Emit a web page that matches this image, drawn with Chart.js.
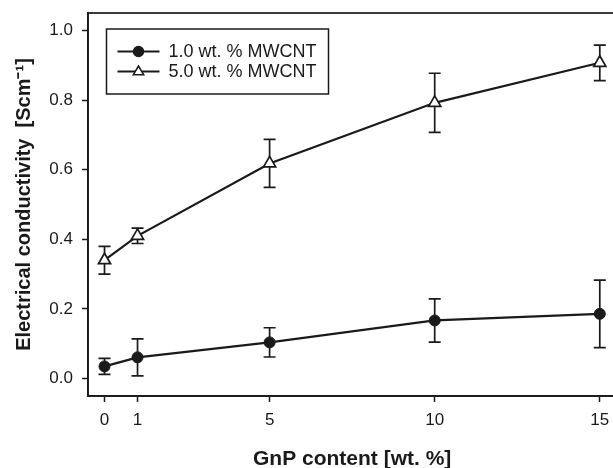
<!DOCTYPE html>
<html>
<head>
<meta charset="utf-8">
<script src="https://cdn.jsdelivr.net/npm/chart.js@4"></script>
<style>
    html, body { margin: 0; padding: 0; background: #fff; overflow: hidden; }
    #wrap { position: relative; width: 625px; height: 468px; }
</style>
</head>
<body>
<div id="wrap"><canvas id="chart"></canvas></div>
<script>
// GnP content [wt. %]
const gnpContent = [0, 1, 5, 10, 15];
const xTickValues = [0, 1, 5, 10, 15];
const yTickValues = [0, 0.2, 0.4, 0.6, 0.8, 1.0];

// 1.0 wt. % MWCNT
const lowCntValues = [0.035, 0.061, 0.104, 0.167, 0.186];
const lowCntErrors = [0.023, 0.053, 0.042, 0.062, 0.097];

// 5.0 wt. % MWCNT
const highCntValues = [0.340, 0.410, 0.618, 0.792, 0.907];
const highCntErrors = [0.040, 0.022, 0.069, 0.085, 0.051];

const seriesLabels = ['1.0 wt. % MWCNT', '5.0 wt. % MWCNT'];

const INK = '#1a1a1a';
const FONT = '"Liberation Sans", Arial, sans-serif';

function toPoints(xs, ys, errs) {
    return xs.map((x, i) => ({ x: x, y: ys[i], err: errs[i] }));
}

// error bars drawn through the chart scales
const errorBars = {
    id: 'errorBars',
    beforeDatasetsDraw(chart) {
        const ctx = chart.ctx;
        const xScale = chart.scales.x;
        const yScale = chart.scales.y;
        ctx.save();
        ctx.strokeStyle = INK;
        ctx.lineWidth = 1.7;
        chart.data.datasets.forEach(ds => {
            ds.data.forEach(p => {
                const px = xScale.getPixelForValue(p.x);
                const top = yScale.getPixelForValue(p.y + p.err);
                const bottom = yScale.getPixelForValue(p.y - p.err);
                ctx.beginPath();
                ctx.moveTo(px, top);
                ctx.lineTo(px, bottom);
                ctx.moveTo(px - 6, top);
                ctx.lineTo(px + 6, top);
                ctx.moveTo(px - 6, bottom);
                ctx.lineTo(px + 6, bottom);
                ctx.stroke();
            });
        });
        ctx.restore();
    }
};

// frame around the plot area and the boxed legend
const frameAndLegend = {
    id: 'frameAndLegend',
    afterDraw(chart) {
        const ctx = chart.ctx;
        const area = chart.chartArea;
        ctx.save();
        ctx.strokeStyle = INK;
        ctx.lineWidth = 1.7;
        ctx.strokeRect(area.left, area.top, area.right - area.left, area.bottom - area.top);

        const boxX = area.left + 18.5;
        const boxY = area.top + 16;
        const boxW = 222;
        const boxH = 65;
        ctx.fillStyle = '#fff';
        ctx.fillRect(boxX, boxY, boxW, boxH);
        ctx.lineWidth = 1.5;
        ctx.strokeRect(boxX, boxY, boxW, boxH);

        ctx.font = '18px ' + FONT;
        ctx.textBaseline = 'middle';
        chart.data.datasets.forEach((ds, i) => {
            const rowY = boxY + 22.5 + i * 20;
            const x0 = boxX + 11;
            const x1 = boxX + 53;
            const mx = (x0 + x1) / 2;
            ctx.strokeStyle = INK;
            ctx.lineWidth = 2;
            ctx.beginPath();
            ctx.moveTo(x0, rowY);
            ctx.lineTo(x1, rowY);
            ctx.stroke();
            ctx.fillStyle = ds.pointBackgroundColor;
            ctx.lineWidth = 1.5;
            ctx.beginPath();
            if (ds.pointStyle === 'triangle') {
                const r = 5.5;
                ctx.moveTo(mx, rowY - r);
                ctx.lineTo(mx + r * 0.95, rowY + r * 0.6);
                ctx.lineTo(mx - r * 0.95, rowY + r * 0.6);
                ctx.closePath();
            } else {
                ctx.arc(mx, rowY, 5, 0, Math.PI * 2);
            }
            ctx.fill();
            ctx.stroke();
            ctx.fillStyle = INK;
            ctx.fillText(ds.label, boxX + 62, rowY + 1);
        });
        ctx.restore();
    }
};

new Chart(document.getElementById('chart'), {
    type: 'line',
    data: {
        datasets: [
            {
                label: seriesLabels[0],
                data: toPoints(gnpContent, lowCntValues, lowCntErrors),
                borderColor: INK,
                borderWidth: 2.2,
                pointStyle: 'circle',
                pointRadius: 5.5,
                pointBackgroundColor: INK,
                pointBorderColor: INK,
                pointBorderWidth: 1,
                tension: 0
            },
            {
                label: seriesLabels[1],
                data: toPoints(gnpContent, highCntValues, highCntErrors),
                borderColor: INK,
                borderWidth: 2.2,
                pointStyle: 'triangle',
                pointRadius: 7,
                pointBackgroundColor: '#fff',
                pointBorderColor: INK,
                pointBorderWidth: 1.7,
                tension: 0
            }
        ]
    },
    options: {
        responsive: true,
        maintainAspectRatio: false,
        animation: false,
        events: [],
        layout: { padding: { top: 13, right: 6, left: 0, bottom: 0 } },
        plugins: {
            legend: { display: false },
            tooltip: { enabled: false }
        },
        scales: {
            x: {
                type: 'linear',
                min: -0.5,
                max: 15.5,
                afterBuildTicks: scale => {
                    scale.ticks = xTickValues.map(v => ({ value: v }));
                },
                afterFit: scale => { scale.height = 72; },
                ticks: {
                    color: INK,
                    font: { family: FONT, size: 17 },
                    padding: 8,
                    maxRotation: 0,
                    callback: v => String(v)
                },
                grid: {
                    drawOnChartArea: false,
                    drawTicks: true,
                    tickLength: 6,
                    tickWidth: 1.5,
                    tickColor: INK
                },
                border: { display: true, color: INK, width: 1.7 },
                title: {
                    display: true,
                    text: 'GnP content [wt. %]',
                    color: INK,
                    font: { family: FONT, size: 21, weight: 'bold' },
                    padding: { top: 10, bottom: -4 }
                }
            },
            y: {
                min: -0.05,
                max: 1.05,
                afterBuildTicks: scale => {
                    scale.ticks = yTickValues.map(v => ({ value: v }));
                },
                afterFit: scale => {
                    scale.width = 88;
                    scale.paddingTop = 0;
                    scale.paddingBottom = 0;
                },
                ticks: {
                    color: INK,
                    font: { family: FONT, size: 17 },
                    padding: 9,
                    callback: v => Number(v).toFixed(1)
                },
                grid: {
                    drawOnChartArea: false,
                    drawTicks: true,
                    tickLength: 6,
                    tickWidth: 1.5,
                    tickColor: INK
                },
                border: { display: true, color: INK, width: 1.7 },
                title: {
                    display: true,
                    text: 'Electrical conductivity  [Scm\u207B\u00B9]',
                    color: INK,
                    font: { family: FONT, size: 20, weight: 'bold' },
                    padding: { top: 12, bottom: 0 }
                }
            }
        }
    },
    plugins: [errorBars, frameAndLegend]
});
</script>
</body>
</html>
